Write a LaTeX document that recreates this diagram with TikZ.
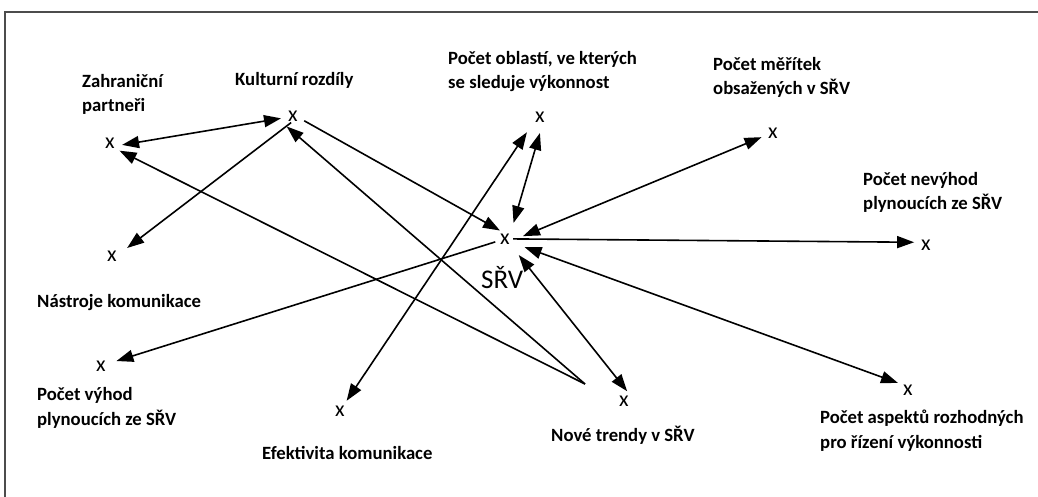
\documentclass[tikz,border=0pt]{standalone}
\usepackage{fontspec}
\setmainfont{Carlito}
\usetikzlibrary{arrows.meta}
\begin{document}
\begin{tikzpicture}[x=1pt,y=-1pt,
  marker/.style={circle,minimum size=24pt,inner sep=0pt,font=\fontsize{22}{22}\selectfont},
  bigmarker/.style={marker,minimum size=36pt},
  lbl/.style={anchor=base west,inner sep=0pt,align=left,font=\bfseries\fontsize{18.7}{24.5}\selectfont},
  conn/.style={line width=1.6pt,black},
  tip/.tip={Triangle[length=17pt,width=12pt]},
  sgl/.style={conn,-tip},
  dbl/.style={conn,tip-tip},
  frame/.style={line width=1.6pt,black!70}
]
\useasboundingbox (0,0) rectangle (1038,497);
\draw[frame] (5,497) -- (5,12) -- (1038,12);

% markers
\node[marker] (zah) at (110,143) {x};
\node[marker] (kul) at (293,116) {x};
\node[marker] (nas) at (112,256) {x};
\node[marker] (vyh) at (101,366) {x};
\node[marker] (efe) at (340,411) {x};
\node[marker] (nov) at (624,401) {x};
\node[marker] (asp) at (908,390) {x};
\node[marker] (nev) at (926,245) {x};
\node[marker] (mer) at (773,133) {x};
\node[marker] (obl) at (540,117) {x};
\node[bigmarker] (srv) at (505,239) {x};
\coordinate (fp) at (585,384);

% labels (anchor = baseline of last line)
\node[lbl] (lzah) at (82,112) {Zahraniční\\partneři};
\node[lbl] (lkul) at (235,86) {Kulturní rozdíly};
\node[lbl] (lobl) at (448,89) {Počet oblastí, ve kterých\\se sleduje výkonnost};
\node[lbl] (lmer) at (713,95) {Počet měřítek\\obsažených v SŘV};
\node[lbl] (lnev) at (863,210) {Počet nevýhod\\plynoucích ze SŘV};
\node[lbl] (lnas) at (37,307) {Nástroje komunikace};
\node[lbl] (lvyh) at (37,425) {Počet výhod\\plynoucích ze SŘV};
\node[lbl] (lefe) at (262,459) {Efektivita komunikace};
\node[lbl] (lnov) at (551,441) {Nové trendy v SŘV};
\node[lbl] (lasp) at (820,448) {Počet aspektů rozhodných\\pro řízení výkonnosti};
\node[anchor=base west,inner sep=0pt,font=\fontsize{27}{27}\selectfont] (lsrv) at (481,288) {SŘV};

% connectors
\draw[dbl] (kul.191) -- (zah.351);
\draw[sgl,shorten <=-6pt,shorten >=5pt] (kul.237) -- (nas.24);
\draw[sgl] (fp) -- (zah.321);
\draw[sgl,shorten >=4pt] (fp) -- (kul.220);
\draw[sgl,shorten >=-9pt] (kul.337) -- (srv.135);
\draw[dbl,shorten >=8pt] (efe.57) -- (obl.225);
\draw[dbl,shorten <=4pt] (obl.275) -- (srv.62);
\draw[sgl,shorten <=-8pt,shorten >=4pt] (srv.197) -- (vyh.18);
\draw[dbl] (mer.200) -- (srv.9);
\draw[sgl,shorten <=-10pt] (srv.0) -- (nev.167);
\draw[dbl,shorten >=3pt] (asp.145) -- (srv.337);
\draw[dbl,shorten <=-3pt,shorten >=3pt] (nov.84) -- (srv.311);
\end{tikzpicture}
\end{document}
